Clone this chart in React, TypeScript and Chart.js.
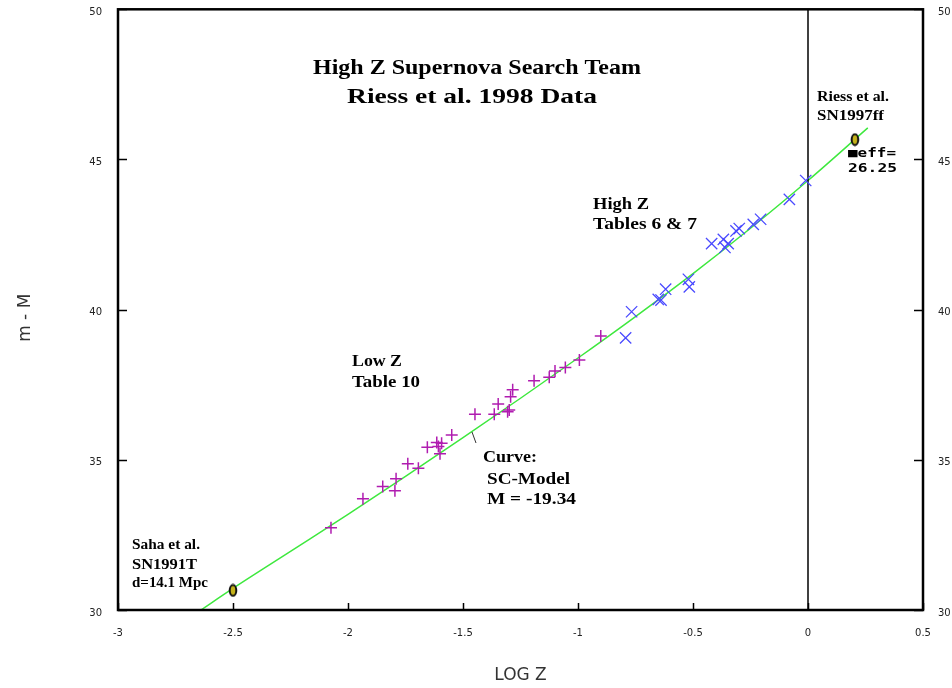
import React, { useEffect, useRef } from 'react';
import { Chart, registerables } from 'chart.js';

Chart.register(...registerables);

// ---- data ----
const lowZLogZ = [-2.074, -1.935, -1.849, -1.791, -1.796, -1.74, -1.694, -1.655, -1.614, -1.607, -1.593, -1.6, -1.549, -1.448, -1.347, -1.364, -1.306, -1.293, -1.284, -1.299, -1.191, -1.125, -1.1, -1.055, -0.994, -0.901];
const lowZMod = [32.74, 33.7, 34.11, 34.37, 33.97, 34.87, 34.72, 35.42, 35.58, 35.44, 35.55, 35.2, 35.83, 36.52, 36.86, 36.52, 36.6, 37.1, 37.33, 36.66, 37.63, 37.75, 37.96, 38.07, 38.32, 39.12];

const highZLogZ = [-0.793, -0.767, -0.651, -0.639, -0.619, -0.52, -0.516, -0.419, -0.368, -0.361, -0.347, -0.313, -0.299, -0.238, -0.206, -0.081, -0.01];
const highZMod = [39.06, 39.93, 40.34, 40.32, 40.68, 41.01, 40.76, 42.2, 42.34, 42.07, 42.2, 42.62, 42.7, 42.84, 43.01, 43.67, 44.3];

const calibLogZ = [-2.5, 0.204];
const calibMod = [30.65, 45.66];

const curveLogZ = [-2.64, -2.5, -2.25, -2.0, -1.75, -1.5, -1.25, -1.0, -0.75, -0.5, -0.25, 0, 0.26];
const curveMod = [30.0, 30.72, 31.95, 33.18, 34.45, 35.74, 37.05, 38.39, 39.77, 41.2, 42.71, 44.3, 46.05];

const zeroLineLogZ = [0, 0];
const zeroLineMod = [30, 50];

const xMin = -3, xMax = 0.5, xStep = 0.5;
const yMin = 30, yMax = 50, yStep = 5;

const pts = (xs: number[], ys: number[]) => xs.map((x, i) => ({ x, y: ys[i] }));

// ---- annotations (pixel placement) ----
const SERIF = '"Liberation Serif", "Times New Roman", serif';
const notes = [
  { text: 'High Z Supernova Search Team', x: 313, y: 68, w: 328, font: `bold 22px ${SERIF}` },
  { text: 'Riess et al. 1998 Data', x: 347, y: 97, w: 250, font: `bold 22px ${SERIF}` },
  { text: 'Riess et al.', x: 817, y: 97, w: 72, font: `bold 15px ${SERIF}` },
  { text: 'SN1997ff', x: 817, y: 116, w: 67, font: `bold 15px ${SERIF}` },
  { text: '\u25A0eff=', x: 848, y: 154, w: 48, font: 'bold 12px "DejaVu Sans Mono", monospace' },
  { text: '26.25', x: 848, y: 169, w: 49, font: 'bold 12px "DejaVu Sans Mono", monospace' },
  { text: 'High Z', x: 593, y: 205, w: 56, font: `bold 16px ${SERIF}` },
  { text: 'Tables 6 & 7', x: 593, y: 225, w: 104, font: `bold 16px ${SERIF}` },
  { text: 'Low Z', x: 352, y: 362, w: 50, font: `bold 16px ${SERIF}` },
  { text: 'Table 10', x: 352, y: 383, w: 68, font: `bold 16px ${SERIF}` },
  { text: 'Curve:', x: 483, y: 458, w: 54, font: `bold 16px ${SERIF}` },
  { text: 'SC-Model', x: 487, y: 480, w: 83, font: `bold 16px ${SERIF}` },
  { text: 'M = -19.34', x: 487, y: 500, w: 89, font: `bold 16px ${SERIF}` },
  { text: 'Saha et al.', x: 132, y: 545, w: 68, font: `bold 15px ${SERIF}` },
  { text: 'SN1991T', x: 132, y: 565, w: 65, font: `bold 15px ${SERIF}` },
  { text: 'd=14.1 Mpc', x: 132, y: 583, w: 76, font: `bold 15px ${SERIF}` },
];

function makeEllipse(): HTMLCanvasElement {
  const c = document.createElement('canvas');
  c.width = 10;
  c.height = 14;
  const g = c.getContext('2d')!;
  g.beginPath();
  g.ellipse(5, 7, 3.3, 5.4, 0, 0, Math.PI * 2);
  g.fillStyle = '#c4b21a';
  g.fill();
  g.lineWidth = 2;
  g.strokeStyle = '#111';
  g.stroke();
  return c;
}

const framePlugin = {
  id: 'frameAndNotes',
  afterDatasetsDraw(chart: any) {
    const { ctx, chartArea: a, scales } = chart;
    ctx.save();
    // inward tick marks
    ctx.strokeStyle = '#000';
    ctx.lineWidth = 1.5;
    ctx.beginPath();
    for (let v = xMin; v <= xMax + 1e-9; v += xStep) {
      const px = Math.round(scales.x.getPixelForValue(v)) + 0.5;
      ctx.moveTo(px, a.bottom);
      ctx.lineTo(px, a.bottom - 7);
    }
    for (let v = yMin; v <= yMax + 1e-9; v += yStep) {
      const py = Math.round(scales.y.getPixelForValue(v)) + 0.5;
      ctx.moveTo(a.left, py);
      ctx.lineTo(a.left + 9, py);
      ctx.moveTo(a.right, py);
      ctx.lineTo(a.right - 9, py);
    }
    ctx.stroke();
    // frame
    ctx.lineWidth = 2.5;
    ctx.strokeRect(a.left, a.top, a.right - a.left, a.bottom - a.top);
    // pointer line for "Curve:"
    ctx.lineWidth = 1;
    ctx.strokeStyle = '#333';
    ctx.beginPath();
    ctx.moveTo(472, 432);
    ctx.lineTo(476, 443);
    ctx.stroke();
    // text notes
    ctx.fillStyle = '#000';
    ctx.textAlign = 'left';
    ctx.textBaseline = 'middle';
    for (const n of notes) {
      ctx.save();
      ctx.font = n.font;
      const w = ctx.measureText(n.text).width;
      ctx.translate(n.x, n.y);
      ctx.scale(n.w / w, 1);
      ctx.fillText(n.text, 0, 0);
      ctx.restore();
    }
    ctx.restore();
  },
};

const TICK_FONT = { size: 10, family: '"DejaVu Sans", sans-serif' };
const fmt = (v: any) => String(+Number(v).toFixed(2));
const noGrid = { display: false, drawTicks: false, drawOnChartArea: false };

export default function App() {
  const ref = useRef<HTMLCanvasElement | null>(null);
  useEffect(() => {
    document.body.style.margin = '0';
    const canvas = ref.current!;
    const ellipse = makeEllipse();
    const chart = new Chart(canvas, {
      type: 'scatter',
      data: {
        datasets: [
          {
            label: 'Calibrators',
            data: pts(calibLogZ, calibMod),
            pointStyle: ellipse as any,
            pointRadius: 7,
            showLine: false,
          },
          {
            label: 'High Z',
            data: pts(highZLogZ, highZMod),
            pointStyle: 'crossRot',
            pointRadius: 8,
            borderColor: '#4a4aff',
            backgroundColor: '#4a4aff',
            borderWidth: 1.3,
            showLine: false,
          },
          {
            label: 'Low Z',
            data: pts(lowZLogZ, lowZMod),
            pointStyle: 'cross',
            pointRadius: 6,
            borderColor: '#b01cb0',
            backgroundColor: '#b01cb0',
            borderWidth: 1.5,
            showLine: false,
          },
          {
            label: 'zero',
            data: pts(zeroLineLogZ, zeroLineMod),
            showLine: true,
            borderColor: '#000',
            borderWidth: 1.5,
            pointRadius: 0,
          },
          {
            label: 'SC-Model',
            data: pts(curveLogZ, curveMod),
            showLine: true,
            borderColor: '#3ee83e',
            borderWidth: 1.5,
            pointRadius: 0,
            cubicInterpolationMode: 'monotone',
          },
        ],
      },
      options: {
        responsive: false,
        animation: false,
        devicePixelRatio: 1,
        layout: { padding: { top: 8, left: 0, right: 0, bottom: 0 } },
        plugins: { legend: { display: false }, tooltip: { enabled: false } },
        scales: {
          x: {
            type: 'linear',
            position: 'bottom',
            min: xMin,
            max: xMax,
            ticks: { stepSize: xStep, font: TICK_FONT, color: '#222', padding: 17, maxRotation: 0, callback: fmt },
            grid: noGrid,
            border: { display: false },
            title: {
              display: true,
              text: 'LOG Z',
              font: { size: 17, family: '"DejaVu Sans", sans-serif' },
              color: '#333',
              padding: { top: 0, bottom: 2 },
            },
            afterFit: (s: any) => { s.height = 78; s.paddingLeft = 0; s.paddingRight = 0; },
          },
          y: {
            type: 'linear',
            position: 'left',
            min: yMin,
            max: yMax,
            ticks: { stepSize: yStep, font: TICK_FONT, color: '#222', padding: 16, labelOffset: 3, callback: fmt },
            grid: noGrid,
            border: { display: false },
            title: {
              display: true,
              text: 'm - M   ',
              font: { size: 17, family: '"DejaVu Sans", sans-serif' },
              color: '#333',
              padding: { top: 15, bottom: 0 },
            },
            afterFit: (s: any) => { s.width = 118; s.paddingTop = 0; s.paddingBottom = 0; },
          },
          y2: {
            type: 'linear',
            position: 'right',
            min: yMin,
            max: yMax,
            ticks: { stepSize: yStep, font: TICK_FONT, color: '#222', padding: 15, labelOffset: 3, callback: fmt },
            grid: noGrid,
            border: { display: false },
            afterFit: (s: any) => { s.width = 29; s.paddingTop = 0; s.paddingBottom = 0; },
          },
        },
      },
      plugins: [framePlugin],
    } as any);
    return () => chart.destroy();
  }, []);
  return (
    <canvas ref={ref} width={952} height={688} style={{ display: 'block', width: 952, height: 688 }} />
  );
}
